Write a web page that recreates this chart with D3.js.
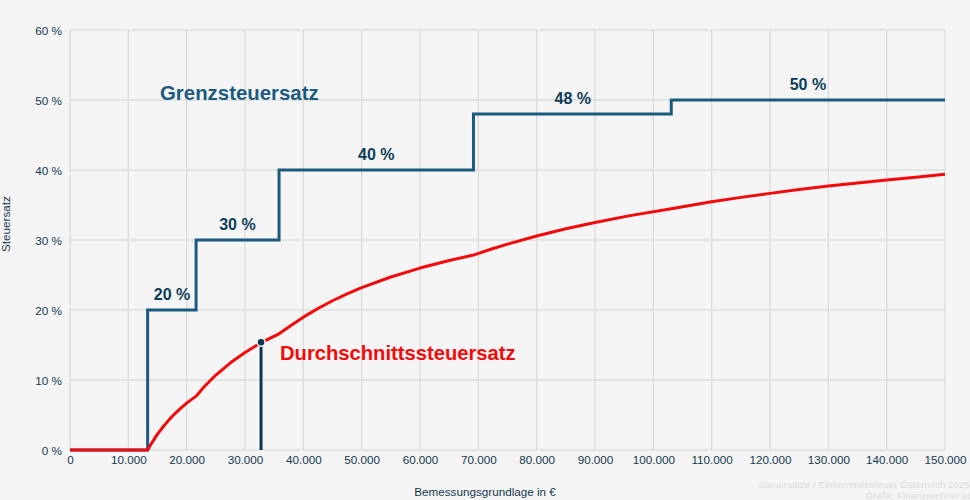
<!DOCTYPE html>
<html>
<head>
<meta charset="utf-8">
<script src="https://cdn.jsdelivr.net/npm/d3@7"></script>
<style>
html, body { margin: 0; padding: 0; background: #f5f5f5; overflow: hidden; }
text { font-family: "Liberation Sans", Arial, sans-serif; }
.tick text { font-size: 11.7px; fill: #14384f; }
.tick line, .domain { display: none; }
</style>
</head>
<body>
<div id="chart"></div>
<script>
// tax brackets
var bracketFrom = [0, 13308, 21617, 35836, 69166, 103072, 150000]
var bracketRate = [0, 20, 30, 40, 48, 50, 50]
var bracketLabels = ["20 %", "30 %", "40 %", "48 %", "50 %"]
var labelIncome = [17500, 28700, 52500, 86200, 126500]

// average rate curve
var avgIncome = [0, 13308, 14000, 15000, 16000, 17000, 18000, 19000, 20000, 21617, 23000, 25000, 27500, 30000, 32750, 35836, 38000, 40000, 42500, 45000, 47500, 50000, 55000, 60000, 65000, 69166, 72000, 75000, 80000, 85000, 90000, 96000, 103072, 110000, 115000, 120000, 125000, 130000, 135000, 140000, 145000, 150000]
var avgRate = [0, 0, 0.99, 2.26, 3.36, 4.34, 5.21, 5.99, 6.69, 7.69, 9.03, 10.71, 12.46, 13.92, 15.35, 16.6, 17.87, 18.98, 20.22, 21.32, 22.3, 23.19, 24.71, 25.99, 27.07, 27.85, 28.64, 29.41, 30.57, 31.6, 32.51, 33.48, 34.47, 35.45, 36.09, 36.66, 37.2, 37.7, 38.15, 38.57, 38.97, 39.38]

var markerIncome = 32750
var markerRate = 15.4

var xTicks = d3.range(0, 150001, 10000)
var yTicks = [0, 10, 20, 30, 40, 50, 60]

var width = 970, height = 500
var margin = {top: 30, right: 25, bottom: 50, left: 70}

var svg = d3.select("#chart").append("svg")
    .attr("width", width)
    .attr("height", height)
    .style("display", "block")

svg.append("rect").attr("width", width).attr("height", height).attr("fill", "#f5f5f5")

var x = d3.scaleLinear().domain([0, 150000]).range([margin.left, width - margin.right])
var y = d3.scaleLinear().domain([0, 60]).range([height - margin.bottom, margin.top])

// grid
svg.append("g").selectAll("line").data(xTicks).enter().append("line")
    .attr("x1", function(d) { return x(d) })
    .attr("x2", function(d) { return x(d) })
    .attr("y1", y(60))
    .attr("y2", y(0))
    .attr("stroke", "#d9d9d9")
    .attr("stroke-width", 1.2)

svg.append("g").selectAll("line").data(yTicks).enter().append("line")
    .attr("x1", x(0))
    .attr("x2", x(150000))
    .attr("y1", function(d) { return y(d) })
    .attr("y2", function(d) { return y(d) })
    .attr("stroke", "#dedede")
    .attr("stroke-width", 1.6)

// axes
var fmt = d3.formatLocale({decimal: ",", thousands: ".", grouping: [3], currency: ["", "€"]}).format(",d")

var xAxis = svg.append("g")
    .attr("transform", "translate(0," + y(0) + ")")
    .call(d3.axisBottom(x).tickValues(xTicks).tickFormat(fmt).tickSize(0).tickPadding(6))
xAxis.select(".domain").remove()

var yAxis = svg.append("g")
    .attr("transform", "translate(" + x(0) + ",1)")
    .call(d3.axisLeft(y).tickValues(yTicks).tickFormat(function(d) { return d + " %" }).tickSize(0).tickPadding(8))
yAxis.select(".domain").remove()

// axis titles
svg.append("text")
    .attr("x", 485).attr("y", 496)
    .attr("text-anchor", "middle")
    .style("font-size", "11.7px").style("fill", "#14384f")
    .text("Bemessungsgrundlage in €")

svg.append("text")
    .attr("transform", "translate(10,224) rotate(-90)")
    .attr("text-anchor", "middle")
    .style("font-size", "11.7px").style("fill", "#14384f")
    .text("Steuersatz")

// marginal rate steps
var stepLine = d3.line()
    .x(function(d) { return x(d) })
    .y(function(d, i) { return y(bracketRate[i]) })
    .curve(d3.curveStepAfter)

svg.append("path")
    .datum(bracketFrom)
    .attr("d", stepLine)
    .attr("fill", "none")
    .attr("stroke", "#1d5a80")
    .attr("stroke-width", 3)

// marker stem below the curve
svg.append("line")
    .attr("x1", x(markerIncome)).attr("x2", x(markerIncome))
    .attr("y1", y(markerRate)).attr("y2", y(0))
    .attr("stroke", "#0b3550")
    .attr("stroke-width", 3)

// average rate curve
var avgLine = d3.line()
    .x(function(d) { return x(d) })
    .y(function(d, i) { return y(avgRate[i]) })

svg.append("path")
    .datum(avgIncome)
    .attr("d", avgLine)
    .attr("fill", "none")
    .attr("stroke", "#f40a0a")
    .attr("stroke-width", 3)
    .attr("stroke-linejoin", "round")

svg.append("circle")
    .attr("cx", x(markerIncome))
    .attr("cy", y(markerRate))
    .attr("r", 4)
    .attr("fill", "#0b3550")
    .attr("stroke", "#f5f5f5")
    .attr("stroke-width", 1.5)

// bracket labels
svg.append("g").selectAll("text").data(bracketLabels).enter().append("text")
    .attr("x", function(d, i) { return x(labelIncome[i]) })
    .attr("y", function(d, i) { return y(bracketRate[i + 1]) - 10 })
    .attr("text-anchor", "middle")
    .style("font-size", "16px")
    .style("font-weight", "bold")
    .style("fill", "#0d3d5a")
    .text(function(d) { return d })

// series names
svg.append("text")
    .attr("x", 160).attr("y", 100)
    .style("font-size", "20.4px").style("font-weight", "bold").style("fill", "#1d5a80")
    .text("Grenzsteuersatz")

svg.append("text")
    .attr("x", 280).attr("y", 360)
    .style("font-size", "20.2px").style("font-weight", "bold").style("fill", "#f40a0a")
    .text("Durchschnittssteuersatz")

// credits
var credits = svg.append("g")
    .attr("text-anchor", "end")
    .style("font-size", "9.8px")
    .style("fill", "#dcdcdc")
credits.append("text").attr("x", 970).attr("y", 488).text("Steuersätze / Einkommensteuer Österreich 2025")
credits.append("text").attr("x", 970).attr("y", 499).text("Grafik: Finanzrechner.at")
</script>
</body>
</html>
